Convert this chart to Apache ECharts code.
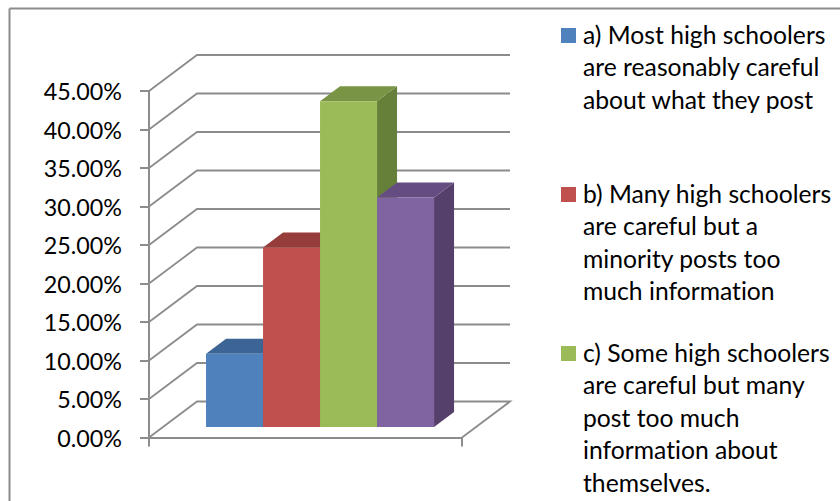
<!DOCTYPE html>
<html>
<head>
<meta charset="utf-8">
<style>html,body{margin:0;padding:0;background:#fff}#chart{width:840px;height:501px}text{font-variant-ligatures:none !important}</style>
<script src="https://cdn.jsdelivr.net/npm/echarts@6/dist/echarts.min.js"></script>
</head>
<body>
<div id="chart"></div>
<script>
// Survey answers, in percent
const categories = ['a', 'b', 'c', 'd'];
const values = [9.5, 23.3, 42.3, 29.8];
const yTicks = [0, 5, 10, 15, 20, 25, 30, 35, 40, 45];
const legendLabels = [
  ['a) Most high schoolers', 'are reasonably careful', 'about what they post'],
  ['b) Many high schoolers', 'are careful but a', 'minority posts too', 'much information'],
  ['c) Some high schoolers', 'are careful but many', 'post too much', 'information about', 'themselves.']
];

const frontColors = ['#4F81BD', '#C0504D', '#9BBB59', '#8064A2'];
const topColors = ['#3C6494', '#963D3B', '#7A9445', '#654D82'];
const sideColors = ['#325379', '#7C3230', '#66803A', '#553F6B'];

const LINE = '#8C8C8C';
const FONT = 'Lato, "Open Sans", sans-serif';
const XMIN = -0.755, XMAX = 4.736;
const WALL = [48, -36];      // depth of the box
const PLANE = [14, -10.5];   // bars stand this far behind the front edge
const DEPTH = [20, -15];     // depth of each bar

function shift(p, d) { return [p[0] + d[0], p[1] + d[1]]; }

function renderWall(params, api) {
  const v = api.value(0);
  const a = api.coord([XMIN, v]);
  const b = shift(a, WALL);
  const c = shift(api.coord([XMAX, v]), WALL);
  const points = [a, b, c];
  if (v === 0) points.push(api.coord([XMAX, 0]));
  return {
    type: 'polyline',
    shape: { points },
    style: { fill: null, stroke: LINE, lineWidth: 1.8 }
  };
}

function renderBar(params, api) {
  const i = api.value(0);
  const lt = shift(api.coord([i, api.value(1)]), PLANE);
  const rb = shift(api.coord([i + 1, 0]), PLANE);
  const rt = [rb[0], lt[1]];
  const lb = [lt[0], rb[1]];
  const poly = (pts, fill) => ({ type: 'polygon', shape: { points: pts }, style: { fill } });
  return {
    type: 'group',
    children: [
      poly([rt, shift(rt, DEPTH), shift(rb, DEPTH), rb], sideColors[i]),
      poly([lt, shift(lt, DEPTH), shift(rt, DEPTH), rt], topColors[i]),
      poly([lt, rt, rb, lb], frontColors[i])
    ]
  };
}

// Legend entries keep their swatch beside the first line of a wrapped label
const legendGraphics = [];
legendLabels.forEach((lines, i) => {
  const top = 18 + i * 159;
  legendGraphics.push({
    type: 'rect', left: 561, top: top + 10,
    shape: { width: 15, height: 15 },
    style: { fill: frontColors[i] }
  });
  legendGraphics.push({
    type: 'text', left: 583, top: top,
    style: { text: lines.join('\n'), font: '24.7px ' + FONT, lineHeight: 32.5, fill: '#000' }
  });
});

const frame = [
  { type: 'line', shape: { x1: 9.5, y1: 8.5, x2: 840, y2: 8.5 }, style: { stroke: LINE, lineWidth: 2 } },
  { type: 'line', shape: { x1: 9.5, y1: 8.5, x2: 9.5, y2: 501 }, style: { stroke: LINE, lineWidth: 2 } }
];

const chart = echarts.init(document.getElementById('chart'), null, { renderer: 'svg' });
chart.setOption({
  animation: false,
  backgroundColor: '#fff',
  grid: { left: 149, width: 313, top: 91, height: 346.5 },
  xAxis: {
    type: 'value', min: XMIN, max: XMAX,
    splitLine: { show: false },
    axisLabel: { show: false },
    axisLine: { show: true, onZero: false, lineStyle: { color: LINE, width: 2 } },
    axisTick: { show: true, customValues: [XMIN, XMAX], length: 9, lineStyle: { color: LINE, width: 2 } }
  },
  yAxis: {
    type: 'value', min: 0, max: 45, interval: 5,
    splitLine: { show: false },
    axisLine: { show: true, onZero: false, lineStyle: { color: LINE, width: 2 } },
    axisTick: { show: true, length: 9, lineStyle: { color: LINE, width: 2 } },
    axisLabel: {
      margin: 27, color: '#000', fontFamily: FONT, fontSize: 23.3,
      formatter: v => v.toFixed(2) + '%'
    }
  },
  series: [
    {
      type: 'custom', coordinateSystem: 'cartesian2d', silent: true, clip: false, z: 1,
      renderItem: renderWall,
      encode: { y: 0 },
      data: yTicks.map(t => [t])
    },
    {
      type: 'custom', coordinateSystem: 'cartesian2d', silent: true, clip: false, z: 3,
      renderItem: renderBar,
      encode: { x: 0, y: 1 },
      data: categories.map((c, i) => [i, values[i]])
    }
  ],
  graphic: legendGraphics.concat(frame)
});
</script>
</body>
</html>
